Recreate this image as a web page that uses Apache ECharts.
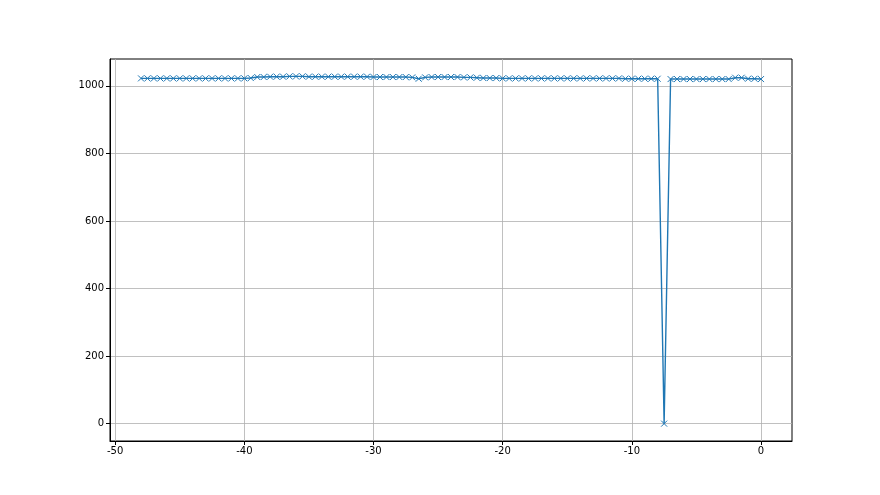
<!DOCTYPE html>
<html>
<head>
<meta charset="utf-8">
<script src="https://cdn.jsdelivr.net/npm/echarts@6/dist/echarts.min.js"></script>
<style>html,body{margin:0;padding:0;background:#fff;}#c{width:880px;height:495px;}</style>
</head>
<body>
<div id="c"></div>
<script>
const xValues = [
  -48,-47.5,-47,-46.5,-46,-45.5,-45,-44.5,-44,-43.5,-43,-42.5,-42,-41.5,-41,-40.5,
  -40,-39.5,-39,-38.5,-38,-37.5,-37,-36.5,-36,-35.5,-35,-34.5,-34,-33.5,-33,-32.5,
  -32,-31.5,-31,-30.5,-30,-29.5,-29,-28.5,-28,-27.5,-27,-26.5,-26,-25.5,-25,-24.5,
  -24,-23.5,-23,-22.5,-22,-21.5,-21,-20.5,-20,-19.5,-19,-18.5,-18,-17.5,-17,-16.5,
  -16,-15.5,-15,-14.5,-14,-13.5,-13,-12.5,-12,-11.5,-11,-10.5,-10,-9.5,-9,-8.5,
  -8,-7.5,-7,-6.5,-6,-5.5,-5,-4.5,-4,-3.5,-3,-2.5,-2,-1.5,-1,-0.5,0
];
const yValues = [
  1022,1022,1022,1022,1022,1022,1022,1022,1022,1022,1022,1022,1022,1022,1022,1022,
  1022,1023,
  1026,1026,1027,1027,1027,1028,1028,1028,1027,1027,1027,1027,1027,1027,1027,1027,1027,1027,1026,1026,1026,1026,1026,1026,
  1025,1021,
  1025,1026,1026,1026,1026,1026,1025,1025,
  1024,
  1023,1023,1023,1022,1022,1022,1022,1022,1022,1022,1022,1022,1022,1022,1022,1022,1022,1022,1022,1022,1022,1022,1021,1021,1021,1021,1021,1021,
  0,
  1020,1020,1020,1020,1020,1020,1020,1020,1020,
  1020,1024,1024,1021,1021,1020
];
const xTicks = [-50,-40,-30,-20,-10,0];
const yTicks = [0,200,400,600,800,1000];

const chart = echarts.init(document.getElementById('c'));
const labelStyle = {color:'#000', fontSize:10, fontFamily:'DejaVu Sans', formatter:(v)=>String(v)};
chart.setOption({
  animation:false,
  grid:{left:110, right:88, top:59, bottom:54, show:true, borderColor:'#000', borderWidth:1, backgroundColor:'transparent'},
  xAxis:{
    type:'value', min:-50.4, max:2.4, interval:10,
    axisLine:{show:true, onZero:false, lineStyle:{color:'#000', width:1}},
    axisTick:{show:true, inside:false, length:4, lineStyle:{color:'#000', width:1}, customValues:xTicks},
    axisLabel:Object.assign({margin:5, customValues:xTicks}, labelStyle),
    splitLine:{show:true, lineStyle:{color:'#b0b0b0', width:0.8}}
  },
  yAxis:{
    type:'value', min:-51.4, max:1079.4, interval:200,
    axisLine:{show:true, onZero:false, lineStyle:{color:'#000', width:1}},
    axisTick:{show:true, inside:false, length:4, lineStyle:{color:'#000', width:1}, customValues:yTicks},
    axisLabel:Object.assign({margin:6, customValues:yTicks}, labelStyle),
    splitLine:{show:true, lineStyle:{color:'#b0b0b0', width:0.8}}
  },
  series:[{
    type:'line',
    data:xValues.map((x,i)=>[x,yValues[i]]),
    lineStyle:{color:'#1f77b4', width:1.4},
    symbol:'path://M0,0L10,10M10,0L0,10',
    symbolSize:6,
    showAllSymbol:true,
    itemStyle:{color:'#1f77b4', borderColor:'#1f77b4', borderWidth:1}
  }]
});
</script>
</body>
</html>
